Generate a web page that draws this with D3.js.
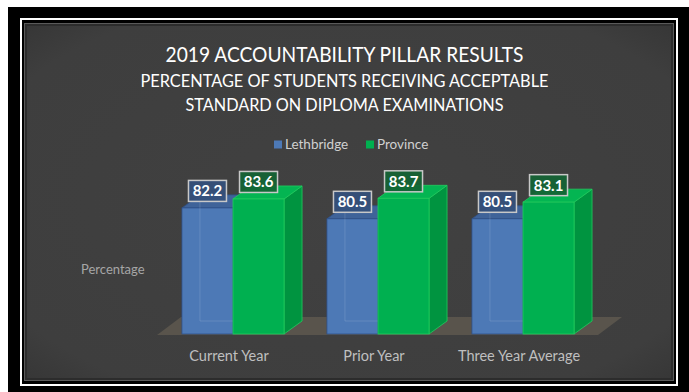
<!DOCTYPE html>
<html>
<head>
<meta charset="utf-8">
<script src="https://cdn.jsdelivr.net/npm/d3@7"></script>
<style>
  html, body { margin: 0; padding: 0; background: #ffffff; }
  svg { display: block; }
  text { font-family: Lato, "Open Sans", sans-serif; }
</style>
</head>
<body>
<script>
// Chart data
const categories = ["Current Year", "Prior Year", "Three Year Average"];
const seriesNames = ["Lethbridge", "Province"];
const lethbridge = [82.2, 80.5, 80.5];
const province = [83.6, 83.7, 83.1];
const titleLines = [
  "2019 ACCOUNTABILITY PILLAR RESULTS",
  "PERCENTAGE OF STUDENTS RECEIVING ACCEPTABLE",
  "STANDARD ON DIPLOMA EXAMINATIONS"
];
const yAxisTitle = "Percentage";
const axisMin = 62.5;
const axisMax = 85;

const W = 689, H = 392;
const svg = d3.select("body").append("svg").attr("width", W).attr("height", H);

// Frame: black mat, thin white rule, dark panel
svg.append("rect").attr("x", 8).attr("y", 7).attr("width", W - 8).attr("height", H - 7).attr("fill", "#000");
svg.append("rect").attr("x", 21).attr("y", 19).attr("width", 656).attr("height", 366)
  .attr("fill", "none").attr("stroke", "#fff").attr("stroke-width", 2);

const defs = svg.append("defs");
const glow = defs.append("radialGradient").attr("id", "panelShade").attr("cx", "50%").attr("cy", "50%").attr("r", "75%");
glow.append("stop").attr("offset", "0%").attr("stop-color", "#414141");
glow.append("stop").attr("offset", "80%").attr("stop-color", "#3e3e3e");
glow.append("stop").attr("offset", "100%").attr("stop-color", "#333");

svg.append("rect").attr("x", 24.5).attr("y", 23.5).attr("width", 649).attr("height", 357)
  .attr("fill", "url(#panelShade)").attr("stroke", "#5a5a5a").attr("stroke-width", 1);
svg.append("rect").attr("x", 26).attr("y", 25).attr("width", 646).attr("height", 354)
  .attr("fill", "none").attr("stroke", "#2c2c2c").attr("stroke-width", 2);

// Title
const titleSpec = [
  { y: 62, size: 21, len: 358 },
  { y: 87, size: 17, len: 408 },
  { y: 111, size: 17, len: 318 }
];
titleLines.forEach((t, i) => {
  svg.append("text").attr("x", W / 2).attr("y", titleSpec[i].y)
    .attr("text-anchor", "middle").attr("fill", "#ffffff")
    .attr("font-size", titleSpec[i].size)
    .attr("textLength", titleSpec[i].len).attr("lengthAdjust", "spacingAndGlyphs")
    .text(t);
});

// Scales
const x0 = d3.scaleBand().domain(categories).range([160.5, 595.5]).paddingInner(0).paddingOuter(0);
const x1 = d3.scaleBand().domain(seriesNames).range([0, x0.bandwidth()]).paddingInner(0).paddingOuter(0.42);
const y = d3.scaleLinear().domain([axisMin, axisMax]).range([334, 190]);

// 3D depth offsets
const dx = 18, dy = -13;
const fdx = 24, fdy = -18;

const colors = {
  Lethbridge: { front: "#4d79b6", top: "#3f6399", side: "#3b5d90", edge: "#2f5088", box: "rgba(52,80,124,0.92)" },
  Province: { front: "#00b050", top: "#04b552", side: "#009440", edge: "#22cc5e", box: "rgba(20,100,52,0.92)" }
};

// Floor
const floorL = x0.range()[0] - 3.5, floorR = x0.range()[1] + 2.5, floorY = y(axisMin) + 1;
svg.append("path")
  .attr("d", `M${floorL},${floorY} L${floorR},${floorY} L${floorR + fdx},${floorY + fdy} L${floorL + fdx},${floorY + fdy} Z`)
  .attr("fill", "#59544c");

// Legend
const legend = svg.append("g");
const legendItems = [
  { name: "Lethbridge", x: 274 },
  { name: "Province", x: 366 }
];
legendItems.forEach(it => {
  legend.append("rect").attr("x", it.x).attr("y", 140.5).attr("width", 8).attr("height", 8)
    .attr("fill", colors[it.name].front);
  legend.append("text").attr("x", it.x + 11).attr("y", 149)
    .attr("fill", "#d0d0d0").attr("font-size", 13.5).text(it.name);
});

// Y axis title
svg.append("text").attr("x", 81).attr("y", 274).attr("fill", "#a6a6a6").attr("font-size", 13)
  .text(yAxisTitle);

// Bars
const rows = categories.map((c, i) => ({ cat: c, values: [
  { s: "Lethbridge", v: lethbridge[i] },
  { s: "Province", v: province[i] }
]}));

const bars = svg.append("g");
rows.forEach(r => {
  r.values.forEach(d => {
    const c = colors[d.s];
    const xl = x0(r.cat) + x1(d.s);
    const xr = xl + x1.bandwidth();
    const yt = y(d.v), yb = y(axisMin);
    const g = bars.append("g");
    // right side
    g.append("path")
      .attr("d", `M${xr},${yt} L${xr + dx},${yt + dy} L${xr + dx},${yb + dy} L${xr},${yb} Z`)
      .attr("fill", c.side).attr("stroke", c.edge).attr("stroke-width", 0.8);
    // top
    g.append("path")
      .attr("d", `M${xl},${yt} L${xr},${yt} L${xr + dx},${yt + dy} L${xl + dx},${yt + dy} Z`)
      .attr("fill", c.top).attr("stroke", c.edge).attr("stroke-width", 0.8);
    // front
    g.append("rect").attr("x", xl).attr("y", yt).attr("width", xr - xl).attr("height", yb - yt)
      .attr("fill", c.front).attr("stroke", c.edge).attr("stroke-width", 0.8);
    if (d.s === "Lethbridge") {
      // faint hidden back edges seen through the translucent bar
      g.append("path")
        .attr("d", `M${xl + dx},${yt + dy + 2} L${xl + dx},${yb + dy} L${xr},${yb + dy}`)
        .attr("fill", "none").attr("stroke", "rgba(255,255,255,0.13)").attr("stroke-width", 1);
    }
  });
});

// Value labels
const labels = svg.append("g");
rows.forEach(r => {
  r.values.forEach(d => {
    const cx = x0(r.cat) + x1(d.s) + x1.bandwidth() / 2;
    const cy = y(d.v) - 17;
    labels.append("rect").attr("x", cx - 19).attr("y", cy - 10.5).attr("width", 38).attr("height", 21)
      .attr("fill", colors[d.s].box).attr("stroke", "#c8c8c8").attr("stroke-width", 1.5);
    labels.append("text").attr("x", cx).attr("y", cy + 5.5).attr("text-anchor", "middle")
      .attr("fill", "#ffffff").attr("font-size", 15).attr("font-weight", "bold")
      .text(d3.format(".1f")(d.v));
  });
});

// Category labels
categories.forEach(c => {
  svg.append("text").attr("x", x0(c) + x0.bandwidth() / 2 - 4).attr("y", 361)
    .attr("text-anchor", "middle").attr("fill", "#bfbfbf").attr("font-size", 14.5).text(c);
});
</script>
</body>
</html>
